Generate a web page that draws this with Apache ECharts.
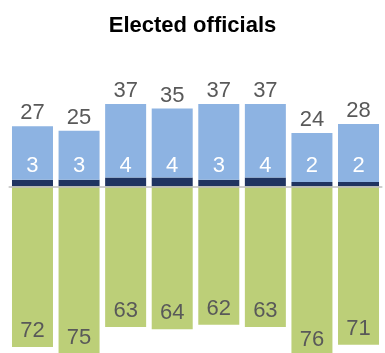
<!DOCTYPE html>
<html>
<head>
<meta charset="utf-8">
<script src="https://cdn.jsdelivr.net/npm/echarts@6/dist/echarts.min.js"></script>
<style>
  html, body { margin: 0; padding: 0; background: #fff; }
  #chart { width: 385px; height: 353px; }
</style>
</head>
<body>
<div id="chart"></div>
<script>
// Eight groups, each split into a small dark share, the rest of the upper total, and a lower share.
const categories = ['1', '2', '3', '4', '5', '6', '7', '8'];
const upperTotals = [27, 25, 37, 35, 37, 37, 24, 28];
const darkShare = [3, 3, 4, 4, 3, 4, 2, 2];
const lowerShare = [72, 75, 63, 64, 62, 63, 76, 71];

const lightPart = upperTotals.map((t, i) => t - darkShare[i]);
const lowerNeg = lowerShare.map(v => -v);

const numFont = '"Liberation Sans", Arial, sans-serif';

const chart = echarts.init(document.getElementById('chart'), null, { renderer: 'canvas' });
chart.setOption({
  animation: false,
  title: {
    text: 'Elected officials',
    left: 'center',
    top: 10,
    textStyle: {
      fontFamily: numFont,
      fontWeight: 'bold',
      fontSize: 22,
      color: '#000'
    }
  },
  grid: { left: 9.2, right: 3.2, top: 97.3, bottom: 0, containLabel: false },
  xAxis: {
    type: 'category',
    data: categories,
    z: 10,
    axisLine: { show: true, onZero: true, lineStyle: { color: '#bfbfbf', width: 1.5 } },
    axisTick: { show: false },
    axisLabel: { show: false },
    splitLine: { show: false }
  },
  yAxis: {
    type: 'value',
    min: -74.66,
    max: 40,
    show: false
  },
  series: [
    {
      name: 'dark',
      type: 'bar',
      stack: 'all',
      barWidth: 41,
      data: darkShare,
      itemStyle: { color: '#1f3461' },
      label: {
        show: true,
        position: 'insideBottom',
        distance: 10,
        color: '#fff',
        fontFamily: numFont,
        fontSize: 22
      }
    },
    {
      name: 'light',
      type: 'bar',
      stack: 'all',
      barWidth: 41,
      data: lightPart,
      itemStyle: { color: '#8db3e2' },
      label: {
        show: true,
        position: 'top',
        distance: 2,
        color: '#595959',
        fontFamily: numFont,
        fontSize: 22,
        formatter: p => upperTotals[p.dataIndex]
      }
    },
    {
      name: 'lower',
      type: 'bar',
      stack: 'all',
      barWidth: 41,
      clip: false,
      data: lowerNeg,
      itemStyle: { color: '#bccf78' },
      label: {
        show: true,
        position: 'insideBottom',
        distance: 5,
        color: '#595959',
        fontFamily: numFont,
        fontSize: 22,
        formatter: p => lowerShare[p.dataIndex]
      }
    }
  ]
});
</script>
</body>
</html>
